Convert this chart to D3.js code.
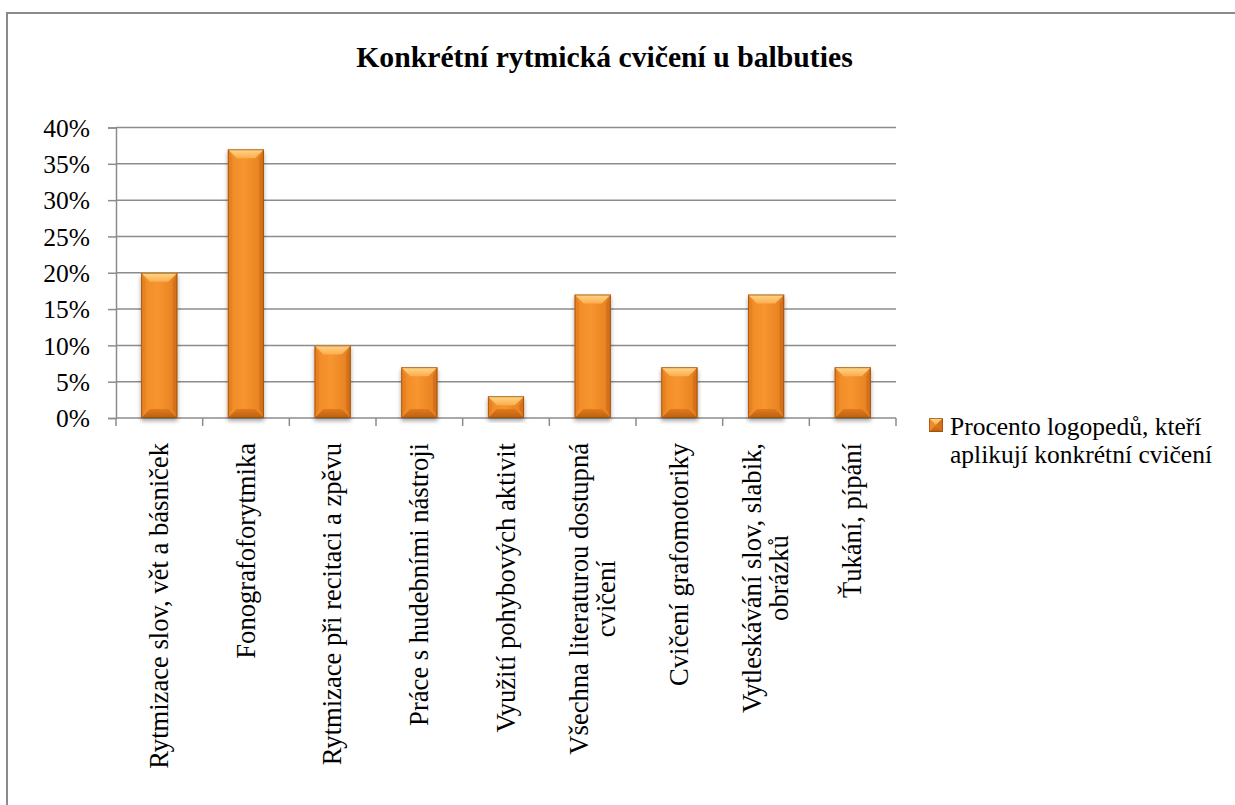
<!DOCTYPE html>
<html>
<head>
<meta charset="utf-8">
<script src="https://cdn.jsdelivr.net/npm/d3@7"></script>
<style>
  body { margin: 0; background: #fff; }
  svg { display: block; }
  text { font-family: 'Liberation Serif', 'Times New Roman', serif; fill: #000; }
</style>
</head>
<body>
<svg id="chart" width="1235" height="805"></svg>
<script>
// ---- data ----
const title = "Konkrétní rytmická cvičení u balbuties";
const categories = [
  ["Rytmizace slov, vět a básniček"],
  ["Fonografoforytmika"],
  ["Rytmizace při recitaci a zpěvu"],
  ["Práce s hudebními nástroji"],
  ["Využití pohybových aktivit"],
  ["Všechna literaturou dostupná", "cvičení"],
  ["Cvičení grafomotoriky"],
  ["Vytleskávání slov, slabik,", "obrázků"],
  ["Ťukání, pípání"]
];
const values = [0.20, 0.37, 0.10, 0.07, 0.03, 0.17, 0.07, 0.17, 0.07];
const yTicks = [0, 0.05, 0.10, 0.15, 0.20, 0.25, 0.30, 0.35, 0.40];
const seriesName = ["Procento logopedů, kteří", "aplikují konkrétní cvičení"];

// ---- layout ----
const svg = d3.select("#chart");
const plot = { left: 116, right: 896, top: 127.5, bottom: 418 };

const x = d3.scaleBand().domain(d3.range(categories.length)).range([plot.left, plot.right]).paddingInner(0.583).paddingOuter(0.29);
const band = d3.scaleBand().domain(d3.range(categories.length)).range([plot.left, plot.right]);
const y = d3.scaleLinear().domain([0, 0.40]).range([plot.bottom, plot.top]);

// defs
const defs = svg.append("defs");
const g1 = defs.append("linearGradient").attr("id", "barBody").attr("x1", 0).attr("x2", 1).attr("y1", 0).attr("y2", 0);
g1.append("stop").attr("offset", "0%").attr("stop-color", "#ee8a26");
g1.append("stop").attr("offset", "45%").attr("stop-color", "#f7952f");
g1.append("stop").attr("offset", "100%").attr("stop-color", "#e47e1f");
const g2 = defs.append("linearGradient").attr("id", "barTop").attr("x1", 0).attr("x2", 0).attr("y1", 0).attr("y2", 1);
g2.append("stop").attr("offset", "0%").attr("stop-color", "#ffd78a");
g2.append("stop").attr("offset", "100%").attr("stop-color", "#fbae4e");
const g3 = defs.append("linearGradient").attr("id", "barBottom").attr("x1", 0).attr("x2", 0).attr("y1", 0).attr("y2", 1);
g3.append("stop").attr("offset", "0%").attr("stop-color", "#e07a1c");
g3.append("stop").attr("offset", "100%").attr("stop-color", "#b9600f");
const flt = defs.append("filter").attr("id", "shadow").attr("x", "-30%").attr("y", "-10%").attr("width", "160%").attr("height", "130%");
flt.append("feDropShadow").attr("dx", 0).attr("dy", 3).attr("stdDeviation", 2.2).attr("flood-color", "#000").attr("flood-opacity", 0.35);

// outer border
svg.append("rect").attr("x", 7).attr("y", 13).attr("width", 1300).attr("height", 900)
  .attr("fill", "none").attr("stroke", "#8a8a8a").attr("stroke-width", 2);

// title
svg.append("text").attr("x", 604.5).attr("y", 67).attr("text-anchor", "middle")
  .attr("font-size", 29.7).attr("font-weight", "bold").text(title);

// gridlines
svg.append("g").selectAll("line").data(yTicks).join("line")
  .attr("x1", plot.left).attr("x2", plot.right)
  .attr("y1", d => y(d)).attr("y2", d => y(d))
  .attr("stroke", "#8c8c8c").attr("stroke-width", 1.5);

// y axis
const yAxis = d3.axisLeft(y).tickValues(yTicks).tickFormat(d3.format(".0%")).tickSize(8).tickPadding(18);
const ya = svg.append("g").attr("transform", `translate(${plot.left},0)`).call(yAxis);
ya.attr("font-family", null).attr("font-size", null);
ya.select(".domain").attr("stroke", "#8c8c8c").attr("stroke-width", 1.5);
ya.selectAll(".tick line").attr("stroke", "#8c8c8c").attr("stroke-width", 1.5);
ya.selectAll(".tick text").attr("font-size", 25.5).attr("fill", "#000").attr("dy", "0.34em");

// x axis ticks at band boundaries
const bounds = d3.range(categories.length + 1).map(i => plot.left + i * band.step());
svg.append("g").selectAll("line").data(bounds).join("line")
  .attr("x1", d => d).attr("x2", d => d)
  .attr("y1", plot.bottom).attr("y2", plot.bottom + 8)
  .attr("stroke", "#8c8c8c").attr("stroke-width", 1.5);

// bars with bevel
function drawBevelBar(g, bx, by, bw, bh) {
  const d = Math.min(9, bh / 2, bw / 2);
  const gg = g.append("g").attr("filter", "url(#shadow)");
  gg.append("rect").attr("x", bx).attr("y", by).attr("width", bw).attr("height", bh).attr("fill", "url(#barBody)");
  gg.append("path").attr("d", `M${bx},${by} L${bx + d * 0.5},${by + d} L${bx + d * 0.5},${by + bh - d} L${bx},${by + bh} Z`).attr("fill", "#e5801f").attr("opacity", 0.9);
  gg.append("path").attr("d", `M${bx + bw},${by} L${bx + bw - d * 0.5},${by + d} L${bx + bw - d * 0.5},${by + bh - d} L${bx + bw},${by + bh} Z`).attr("fill", "#d5711a");
  gg.append("path").attr("d", `M${bx},${by} L${bx + bw},${by} L${bx + bw - d},${by + d} L${bx + d},${by + d} Z`).attr("fill", "url(#barTop)");
  gg.append("path").attr("d", `M${bx},${by + bh} L${bx + bw},${by + bh} L${bx + bw - d},${by + bh - d} L${bx + d},${by + bh - d} Z`).attr("fill", "url(#barBottom)");
  gg.append("rect").attr("x", bx + 0.5).attr("y", by + 0.5).attr("width", bw - 1).attr("height", bh - 1)
    .attr("fill", "none").attr("stroke", "#8f4c0e").attr("stroke-width", 1).attr("opacity", 0.7);
}
const barsG = svg.append("g");
values.forEach((v, i) => {
  drawBevelBar(barsG, x(i), y(v), x.bandwidth(), y(0) - y(v));
});

// category labels (rotated)
const labTop = 443;
const lineH = 27;
categories.forEach((lines, i) => {
  const cx = band(i) + band.step() / 2;
  const g = svg.append("g").attr("transform", `translate(${cx},${labTop}) rotate(-90)`);
  const texts = lines.map((t, k) => g.append("text").attr("font-size", 26.6)
    .attr("y", (k - (lines.length - 1) / 2) * lineH).attr("dy", "0.33em").text(t));
  const W = d3.max(texts, t => t.node().getComputedTextLength());
  texts.forEach(t => t.attr("x", -W / 2).attr("text-anchor", "middle"));
});

// legend
const lx = 929, ly = 418, ls = 14;
(function legendMarker() {
  const g = svg.append("g");
  const d = ls / 2;
  g.append("rect").attr("x", lx).attr("y", ly).attr("width", ls).attr("height", ls).attr("fill", "#f08a26");
  g.append("path").attr("d", `M${lx},${ly} L${lx + ls},${ly} L${lx + d},${ly + d} Z`).attr("fill", "url(#barTop)");
  g.append("path").attr("d", `M${lx},${ly + ls} L${lx + ls},${ly + ls} L${lx + d},${ly + d} Z`).attr("fill", "url(#barBottom)");
  g.append("path").attr("d", `M${lx + ls},${ly} L${lx + ls},${ly + ls} L${lx + d},${ly + d} Z`).attr("fill", "#d5711a");
  g.append("rect").attr("x", lx + 0.5).attr("y", ly + 0.5).attr("width", ls - 1).attr("height", ls - 1)
    .attr("fill", "none").attr("stroke", "#8f4c0e").attr("stroke-width", 1).attr("opacity", 0.7);
})();
seriesName.forEach((t, k) => {
  svg.append("text").attr("x", 950).attr("y", 435 + k * 28).attr("font-size", 25.5).text(t);
});
</script>
</body>
</html>
